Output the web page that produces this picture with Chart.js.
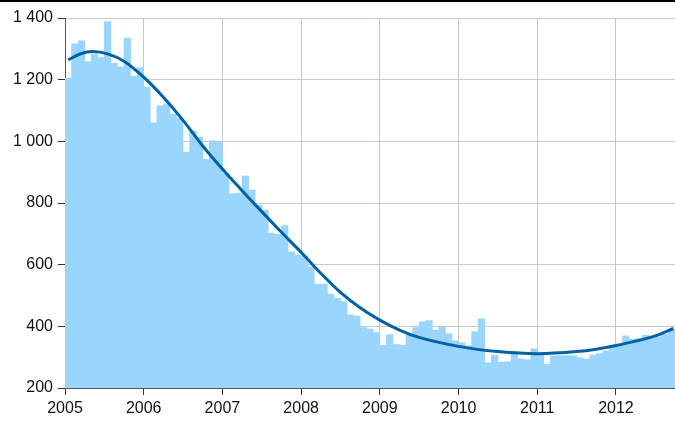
<!DOCTYPE html>
<html>
<head>
<meta charset="utf-8">
<script src="https://cdn.jsdelivr.net/npm/chart.js@4"></script>
<style>
    body { margin: 0; background: #fff; }
    #wrap { width: 675px; height: 421px; }
</style>
</head>
<body>
<div id="wrap"><canvas id="chart" width="675" height="421"></canvas></div>
<script>
// Data
const startYear = 2005;
const monthlyValues = [
    1205, 1316, 1326, 1258, 1283, 1272, 1388, 1253, 1242, 1335, 1212, 1239,
    1175, 1060, 1115, 1122, 1088, 1075, 965, 1033, 1013, 942, 1002, 998,
    895, 830, 832, 887, 842, 793, 777, 702, 698, 727, 642, 631,
    628, 593, 537, 537, 505, 491, 480, 437, 433, 396, 391, 380,
    338, 373, 341, 339, 374, 396, 415, 419, 388, 397, 376, 353,
    347, 337, 383, 424, 282, 307, 284, 285, 318, 295, 291, 327,
    310, 277, 304, 305, 305, 305, 298, 294, 307, 312, 320, 339,
    339, 369, 358, 361, 371, 361, 366, 374, 390
];
const trendYears = [
    2005.04, 2005.2, 2005.35, 2005.55, 2005.75, 2006.0, 2006.25, 2006.5, 2006.75,
    2007.0, 2007.25, 2007.5, 2007.75, 2008.0, 2008.25, 2008.5, 2008.75,
    2009.0, 2009.25, 2009.5, 2010.0, 2010.5, 2011.0, 2011.5, 2011.75,
    2012.0, 2012.25, 2012.5, 2012.73
];
const trendValues = [
    1264, 1284, 1291, 1283, 1260, 1208, 1143, 1068, 985,
    910, 840, 772, 705, 640, 572, 510, 460,
    420, 388, 364, 335, 318, 311, 318, 326,
    338, 352, 369, 393
];
const yearTicks = [2005, 2006, 2007, 2008, 2009, 2010, 2011, 2012];
const yTicks = [200, 400, 600, 800, 1000, 1200, 1400];

// Build point lists for the library
const barPoints = monthlyValues.map((v, i) => ({ x: startYear + (i + 0.5) / 12, y: v }));
const trendPoints = trendYears.map((x, i) => ({ x: x, y: trendValues[i] }));
const xMax = startYear + monthlyValues.length / 12;

const fontSpec = { family: 'Liberation Sans, Arial, sans-serif', size: 16 };

// Black rule across the top of the image
const topRule = {
    id: 'topRule',
    afterDraw(chart) {
        const ctx = chart.ctx;
        ctx.save();
        ctx.fillStyle = '#000';
        ctx.fillRect(0, 0, chart.width, 2);
        ctx.restore();
    }
};

new Chart(document.getElementById('chart'), {
    type: 'bar',
    data: {
        datasets: [{
            type: 'line',
            label: 'Trend',
            data: trendPoints,
            borderColor: '#0061a3',
            borderWidth: 3,
            pointRadius: 0,
            fill: false,
            cubicInterpolationMode: 'monotone',
            order: 0
        }, {
            type: 'bar',
            label: 'Monthly',
            data: barPoints,
            backgroundColor: '#99d5fd',
            borderWidth: 0,
            barPercentage: 1,
            categoryPercentage: 1,
            order: 1
        }]
    },
    options: {
        responsive: false,
        animation: false,
        devicePixelRatio: 1,
        layout: { padding: { top: 18, right: 0, left: 0, bottom: 0 } },
        plugins: {
            legend: { display: false },
            tooltip: { enabled: false }
        },
        scales: {
            x: {
                type: 'linear',
                min: startYear,
                max: xMax,
                offset: false,
                afterBuildTicks: (scale) => {
                    scale.ticks = yearTicks.map(v => ({ value: v }));
                },
                afterFit: (scale) => { scale.height = 33; },
                grid: { offset: false, color: '#c9c9c9', tickColor: '#333', tickLength: 7, lineWidth: 1 },
                border: { color: '#555', width: 1 },
                ticks: {
                    color: '#111',
                    font: fontSpec,
                    padding: 4,
                    maxRotation: 0,
                    callback: (v) => String(v)
                }
            },
            y: {
                min: 200,
                max: 1400,
                afterBuildTicks: (scale) => {
                    scale.ticks = yTicks.map(v => ({ value: v }));
                },
                afterFit: (scale) => { scale.width = 65; },
                grid: { color: '#c9c9c9', tickColor: '#333', tickLength: 7, lineWidth: 1 },
                border: { color: '#555', width: 1 },
                ticks: {
                    color: '#111',
                    font: fontSpec,
                    padding: 5,
                    callback: (v) => String(v).replace(/\B(?=(\d{3})+(?!\d))/g, ' ')
                }
            }
        }
    },
    plugins: [topRule]
});
</script>
</body>
</html>
